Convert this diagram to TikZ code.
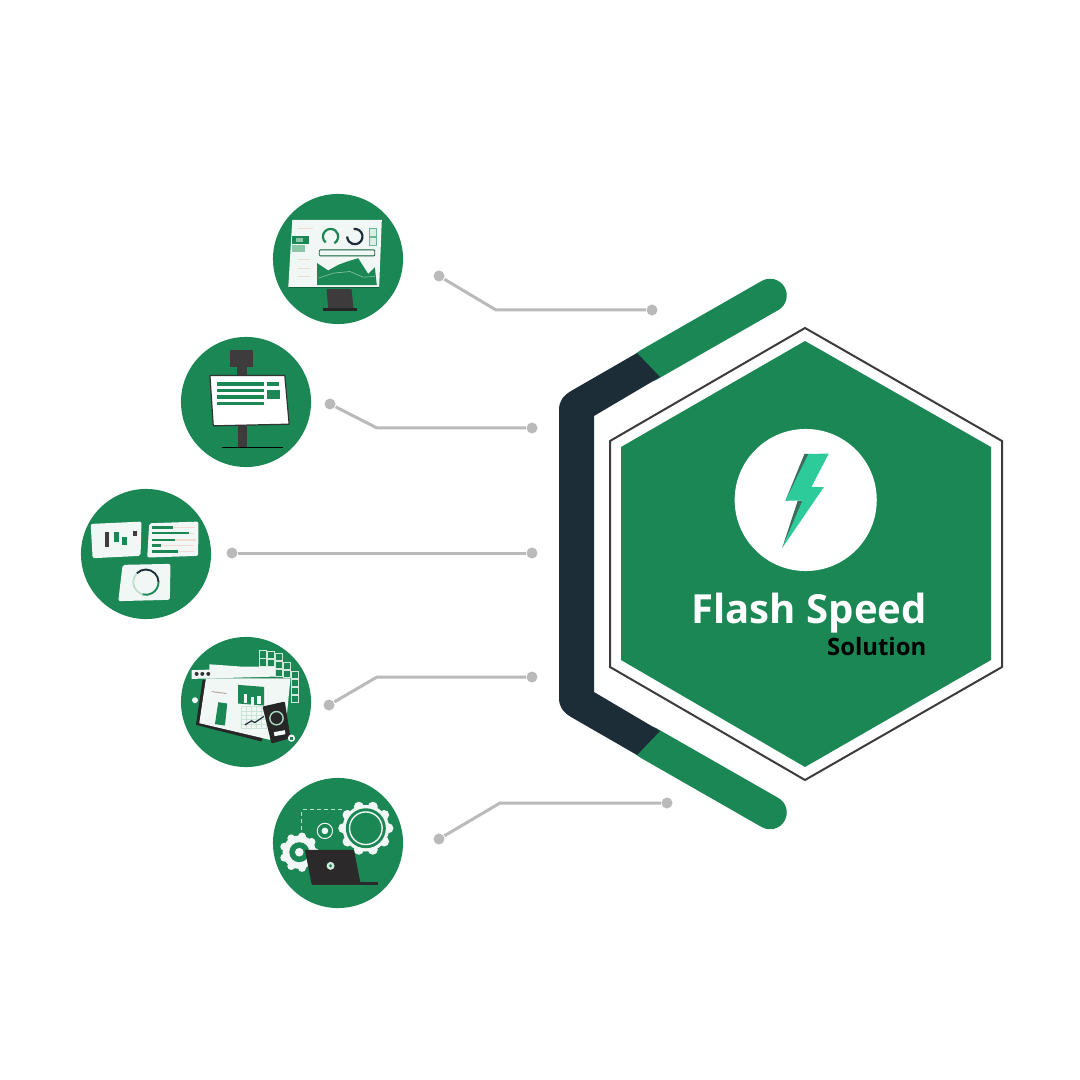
\documentclass[tikz,border=0pt]{standalone}
\usepackage{fontspec}
\setmainfont{Open Sans}
\usetikzlibrary{calc}
\definecolor{brandgreen}{HTML}{1A8754}
\definecolor{darknavy}{HTML}{1C2D38}
\definecolor{mint}{HTML}{2DCB9A}
\definecolor{wire}{HTML}{BABABA}
\definecolor{stand}{HTML}{3D3B3B}
\definecolor{boltshade}{HTML}{3F6B5C}
\definecolor{paper}{HTML}{F1F7F4}
\definecolor{softgreen}{HTML}{8CC6A8}
\definecolor{softpink}{HTML}{F3D9D4}
\tikzset{
  x=0.01cm,y=-0.01cm,
  iconcircle/.style={circle,fill=brandgreen,draw=none,minimum size=1.3cm,inner sep=0pt},
  wiredot/.style={circle,fill=wire,draw=none,minimum size=0.11cm,inner sep=0pt},
  wireline/.style={draw=wire,line width=0.03cm,line join=round},
  zoomed/.style={x=0.003333cm,y=-0.003333cm},
  gearwhite/.style={fill=paper,draw=none},
}
\begin{document}
\begin{tikzpicture}
\useasboundingbox (0,0) rectangle (1080,1080);
\fill[white] (0,0) rectangle (1080,1080);

% bracket
\draw[brandgreen,line width=0.335cm,line cap=round] (648.5,365) -- (770,295.5);
\draw[brandgreen,line width=0.335cm,line cap=round] (648.5,743) -- (770,812.5);
\fill[darknavy] (637,353) -- (571,391) .. controls (563,396) and (559,401) .. (559,410)
  -- (559,698) .. controls (559,707) and (563,712) .. (571,717)
  -- (637,755) -- (660,731) -- (594,692) -- (594,416) -- (660,377) -- cycle;

% hexagon
\draw[fill=white,draw=stand,line width=0.02cm,line join=miter]
  (805,328) -- (1002,441) -- (1002,667) -- (805,780) -- (610,667) -- (610,441) -- cycle;
\fill[brandgreen] (805,341) -- (991,447) -- (991,660) -- (805,767) -- (621,660) -- (621,447) -- cycle;

% emblem
\node[circle,fill=white,minimum size=1.42cm,inner sep=0pt] (emblem) at (805.7,500) {};
\begin{scope}[shift={(660,410)},zoomed]
  \fill[boltshade] (434,132) -- (448,132) -- (385,272) -- (377,272) -- cycle;
  \fill[boltshade] (414,272) -- (430,272) -- (367,415) -- cycle;
  \fill[mint] (446,132) -- (507,131) -- (455,231) -- (492,232) -- (367,415) -- (428,272) -- (377,272) -- cycle;
\end{scope}
\node[anchor=base east,inner sep=0pt,text=white,font=\bfseries\fontsize{11.4pt}{14pt}\selectfont] (title) at (927.5,623) {Flash Speed};
\node[anchor=base east,inner sep=0pt,text=black,font=\bfseries\fontsize{6.8pt}{8pt}\selectfont] (subtitle) at (927,655.5) {Solution};

% circles
\node[iconcircle] (icona) at (338,259) {};
\node[iconcircle] (iconb) at (246,402) {};
\node[iconcircle] (iconc) at (146,554) {};
\node[iconcircle] (icond) at (246,702) {};
\node[iconcircle] (icone) at (338,843) {};

% connectors
\node[wiredot] (a1) at (439,276) {};
\node[wiredot] (a2) at (652,310) {};
\coordinate (ak) at (496,310);
\node[wiredot] (b1) at (330,404) {};
\node[wiredot] (b2) at (532,428) {};
\coordinate (bk) at (377,428);
\node[wiredot] (c1) at (232,553) {};
\node[wiredot] (c2) at (532,553) {};
\node[wiredot] (d1) at (329,705) {};
\node[wiredot] (d2) at (532,677) {};
\coordinate (dk) at (377,677);
\node[wiredot] (e1) at (439,839) {};
\node[wiredot] (e2) at (667,803) {};
\coordinate (ek) at (500,803);
\draw[wireline] (a1) -- (ak) -- (a2);
\draw[wireline] (b1) -- (bk) -- (b2);
\draw[wireline] (c1) -- (c2);
\draw[wireline] (d1) -- (dk) -- (d2);
\draw[wireline] (e1) -- (ek) -- (e2);

% icon a : monitor
\begin{scope}[shift={(260,180)},zoomed]
  \fill[stand] (200,328) -- (275,328) -- (281,385) -- (205,385) -- cycle;
  \draw[black!85,line width=0.03cm] (188,389) -- (290,389);
  \fill[paper] (97,120) -- (366,120) -- (358,322) -- (85,322) -- cycle;
  \fill[brandgreen] (172,316) -- (172,250) -- (205,272) -- (235,255) -- (262,245) -- (295,235) -- (325,282) -- (345,262) -- (351,316) -- cycle;
  \draw[softgreen,line width=0.006cm] (175,295) -- (220,280) -- (270,275) -- (310,292) -- (345,290);
  \draw[brandgreen,line width=0.022cm] (212,170) ++(130:23) arc[start angle=130,end angle=420,radius=23];
  \draw[darknavy,line width=0.022cm] (285,170) ++(260:23) arc[start angle=260,end angle=540,radius=23];
  \draw[brandgreen!70!black,fill=paper,line width=0.008cm,rounded corners=0.01cm] (178,210) rectangle (345,228);
  \draw[brandgreen!60!paper,fill=paper!80!softgreen,line width=0.008cm] (330,145) rectangle (350,170);
  \draw[brandgreen!60!paper,fill=paper!80!softgreen,line width=0.008cm] (330,172) rectangle (350,197);
  \fill[brandgreen] (95,168) rectangle (147,192);
  \fill[softgreen] (95,194) rectangle (135,216);
  \fill[softgreen] (108,174) rectangle (128,186);
  \foreach \yy/\xx in {145/160,240/150,265/150,290/150}
    \draw[softpink,line width=0.012cm] (115,\yy) -- (\xx,\yy);
  \draw[brandgreen!70!black,line width=0.006cm] (88,322) -- (358,322);
\end{scope}

% icon b : signboard
\begin{scope}[shift={(170,325)},zoomed]
  \fill[stand] (181,75) rectangle (248,125);
  \fill[stand] (200,125) rectangle (231,152);
  \fill[stand] (203,300) rectangle (232,366);
  \draw[black,line width=0.012cm] (155,367) -- (340,367);
  \draw[fill=white,draw=black!80,line width=0.012cm,line join=round] (120,152) -- (345,152) -- (358,298) -- (130,303) -- cycle;
  \foreach \yy in {172,191,210,230}
    \fill[brandgreen] (140,\yy) rectangle (283,\yy+11);
  \fill[brandgreen] (292,172) rectangle (328,183);
  \fill[brandgreen] (292,195) rectangle (330,222);
\end{scope}

% icon c : cards
\begin{scope}[shift={(70,480)},zoomed]
  \fill[paper,rounded corners=0.02cm] (62,132) -- (215,125) -- (212,228) -- (68,235) -- cycle;
  \fill[paper,rounded corners=0.02cm] (238,130) -- (386,125) -- (385,228) -- (232,233) -- cycle;
  \fill[paper,rounded corners=0.02cm] (158,255) -- (302,252) -- (300,360) -- (145,364) -- cycle;
  \fill[stand] (105,155) rectangle (118,200);
  \fill[brandgreen] (132,155) rectangle (147,185);
  \fill[brandgreen] (157,170) rectangle (172,195);
  \fill[stand] (188,152) rectangle (202,168);
  \foreach \yy/\xx/\xz in {143/310/375,160/358/372,180/316/378,197/272/370,215/326/372}{
    \draw[softpink,line width=0.012cm] (\xx,\yy) -- (\xz,\yy);
    \draw[brandgreen,line width=0.022cm] (245,\yy) -- (\xx,\yy);
  }
  \draw[softgreen!50!paper,line width=0.018cm] (228,307) circle[radius=38];
  \draw[darknavy,line width=0.018cm] (228,307) ++(225:38) arc[start angle=225,end angle=360,radius=38];
  \draw[brandgreen,line width=0.018cm] (228,307) ++(0:38) arc[start angle=0,end angle=105,radius=38];
\end{scope}

% icon d : tablet with phone
\begin{scope}[shift={(170,625)},zoomed]
  \foreach \cx/\cy in {268/78,292/80,316/86,268/102,292/104,316/110,340/112,316/134,340/136,364/140,364/164,364/188,364/212}
    \draw[paper!70!softgreen,line width=0.01cm] (\cx,\cy) rectangle ++(22,22);
  \fill[black!85] (98,165) -- (78,300) -- (275,350) -- (305,250) -- (350,160) -- cycle;
  \fill[paper] (108,160) -- (362,160) -- (352,262) -- (300,345) -- (88,295) -- cycle;
  \fill[paper] (118,118) -- (215,125) -- (315,125) -- (315,155) -- (65,162) -- (65,136) -- (118,134) -- cycle;
  \foreach \dx in {80,97,115}
    \fill[black!80] (\dx,147) circle[radius=6];
  \fill[brandgreen] (205,180) -- (283,186) -- (283,242) -- (205,236) -- cycle;
  \foreach \bx/\by in {222/208,242/215,262/212}
    \fill[paper] (\bx,\by) rectangle ++(10,25);
  \fill[brandgreen] (145,232) -- (172,236) -- (165,302) -- (135,298) -- cycle;
  \draw[softpink!70!stand,line width=0.01cm] (125,200) -- (170,206);
  \foreach \gx in {215,230,...,290}
    \draw[softgreen!40!paper,line width=0.006cm] (\gx,245) -- (\gx,312);
  \foreach \gy in {245,258,...,312}
    \draw[softgreen!40!paper,line width=0.006cm] (215,\gy) -- (290,\gy);
  \draw[darknavy,line width=0.012cm] (225,300) -- (245,288) -- (255,293) -- (282,275);
  \fill[black!85,rounded corners=0.01cm] (278,245) -- (345,230) -- (362,340) -- (305,356) -- cycle;
  \draw[softgreen!70!paper,line width=0.014cm] (320,280) circle[radius=20];
  \fill[paper] (312,322) -- (345,316) -- (347,328) -- (314,334) -- cycle;
  \fill[paper] (75,226) circle[radius=9];
  \fill[paper] (365,340) circle[radius=11];
  \fill[brandgreen] (362,336) rectangle (369,345);
\end{scope}

% icon e : gears and laptop
\begin{scope}[shift={(260,765)},zoomed]
  \draw[softgreen!50!paper,line width=0.01cm,dash pattern=on 1.2pt off 0.8pt] (125,195) -- (125,135) -- (250,135);
  % big gear
  \fill[gearwhite] (318,190) circle[radius=70];
  \foreach \a in {0,36,...,324}
    \fill[gearwhite] (318,190) ++(\a:68) circle[radius=15];
  \fill[brandgreen] (318,190) circle[radius=60];
  \draw[paper,line width=0.014cm] (318,190) circle[radius=49];
  % middle ring
  \draw[paper,line width=0.01cm] (195,198) circle[radius=23];
  \fill[paper] (195,198) circle[radius=10];
  % small gear
  \fill[gearwhite] (118,262) circle[radius=50];
  \foreach \a in {0,40,...,320}
    \fill[gearwhite] (118,262) ++(\a:48) circle[radius=12];
  \fill[brandgreen] (118,262) circle[radius=30];
  \fill[paper] (118,262) circle[radius=13];
  % laptop
  \fill[stand!70!black] (135,255) -- (282,255) -- (302,355) -- (155,358) -- cycle;
  \fill[stand!70!black] (155,352) rectangle (355,360);
  \fill[paper!70!softgreen] (212,303) circle[radius=12];
  \fill[brandgreen] (212,303) circle[radius=5];
\end{scope}
\end{tikzpicture}
\end{document}
